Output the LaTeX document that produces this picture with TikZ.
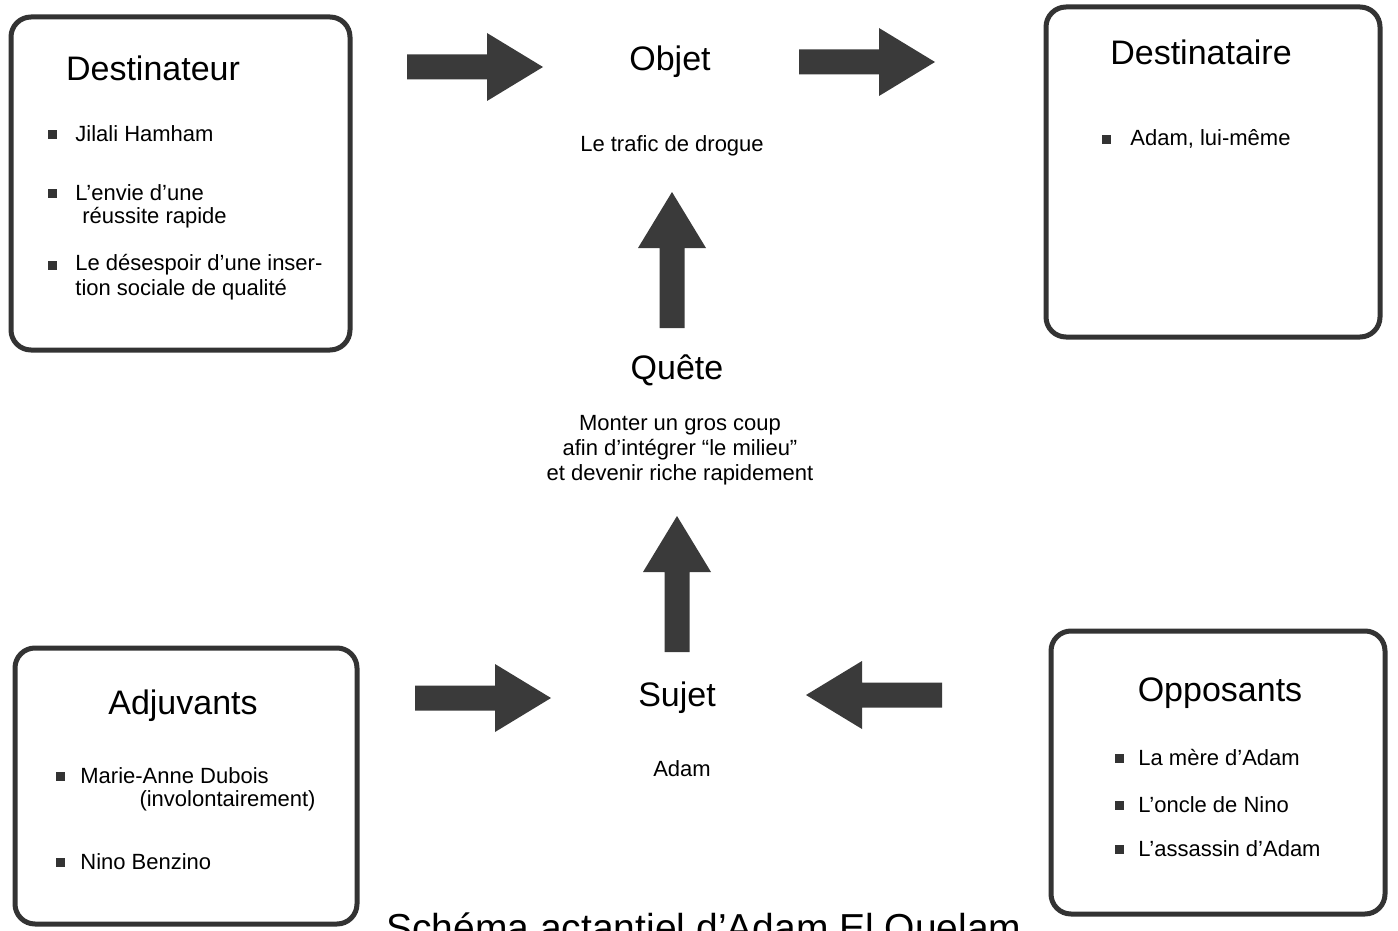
\documentclass[tikz,border=0pt]{standalone}
\usepackage{fontspec}
\setmainfont{Liberation Sans}
\definecolor{fleche}{HTML}{3A3A3A}
\definecolor{trait}{HTML}{333333}
\tikzset{
  cadre/.style={line width=2.5pt,draw=trait,rounded corners=10pt},
  titre/.style={font=\fontsize{17}{20}\selectfont,inner sep=0pt},
  texte/.style={font=\fontsize{11}{12.5}\selectfont,inner sep=0pt,anchor=west},
  puce/.style={fill=trait},
  bloc/.pic={\fill[fleche] (0,-12.5) -- (80,-12.5) -- (80,-34) -- (136,0) -- (80,34) -- (80,12.5) -- (0,12.5) -- cycle;}
}
\begin{document}
\begin{tikzpicture}[x=0.5pt,y=-0.5pt]
			\useasboundingbox (0,0) rectangle (1398,931);

			\draw[cadre] (11,17) rectangle (350,350);
			\draw[cadre] (1046,7) rectangle (1380,337);
			\draw[cadre] (15,648) rectangle (357,924);
			\draw[cadre] (1051,631) rectangle (1385,914);

			\begin{scope}
			    \pic at (407,67) {bloc};
			    \pic at (799,62) {bloc};
			    \pic[rotate=90] at (672,328) {bloc};
			    \pic[rotate=90] at (677,652) {bloc};
			    \pic at (415,698) {bloc};
			    \pic[rotate=180] at (942,695) {bloc};
			\end{scope}

			\node[titre] (destinateur) at (153,68) {Destinateur};
			\node[titre] (destinataire) at (1201,52) {Destinataire};
			\node[titre] (adjuvants) at (183,706) {Adjuvants};
			\node[titre] (opposants) at (1220,693) {Opposants};
			\node[titre] (objet) at (670,62) {Objet};
			\node[titre] (quete) at (677,370) {Quête};
			\node[titre] (sujet) at (677,698) {Sujet};

			\node[texte,anchor=center] (trafic) at (672,146) {Le trafic de drogue};
			\node[texte,anchor=center,align=center] (coup) at (680,450) {Monter un gros coup\\afin d'intégrer “le milieu”\\et devenir riche rapidement};
			\node[texte,anchor=center] (adam) at (682,769) {Adam};

			\fill[puce] (48,130) rectangle ++(9,9);
			\node[texte] (jilali) at (75,134) {Jilali Hamham};
			\fill[puce] (48,189) rectangle ++(9,9);
			\node[texte] (envie) at (75,193) {L'envie d'une};
			\node[texte] (reussite) at (82,218) {réussite rapide};
			\fill[puce] (48,261) rectangle ++(9,9);
			\node[texte] (desespoir) at (75,265) {Le désespoir d'une inser-};
			\node[texte] (insertion) at (75,290) {tion sociale de qualité};

			\fill[puce] (1102,135) rectangle ++(9,9);
			\node[texte] (luimeme) at (1130,139) {Adam, lui-même};

			\fill[puce] (56,772) rectangle ++(9,9);
			\node[texte] (marie) at (80,776) {Marie-Anne Dubois};
			\node[texte,anchor=east] (involontaire) at (316,801) {(involontairement)};
			\fill[puce] (56,858) rectangle ++(9,9);
			\node[texte] (nino) at (80,862) {Nino Benzino};

			\fill[puce] (1115,754) rectangle ++(9,9);
			\node[texte] (mere) at (1138,758) {La mère d'Adam};
			\fill[puce] (1115,801) rectangle ++(9,9);
			\node[texte] (oncle) at (1138,805) {L'oncle de Nino};
			\fill[puce] (1115,845) rectangle ++(9,9);
			\node[texte] (assassin) at (1138,849) {L'assassin d'Adam};

			\node[anchor=base west,inner sep=0pt,font=\fontsize{19.5}{22}\selectfont] (legende) at (386,941) {Schéma actantiel d'Adam El Ouelam};
\end{tikzpicture}
\end{document}
